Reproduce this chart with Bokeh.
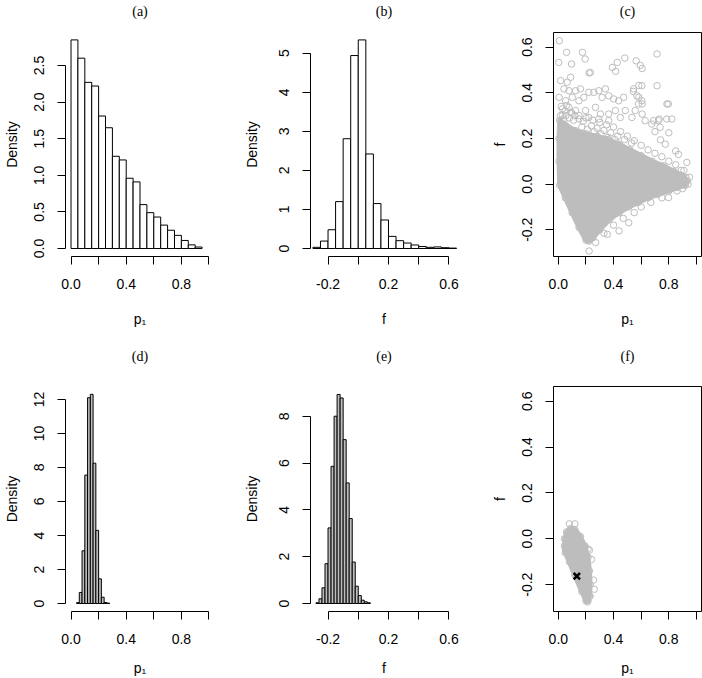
from bokeh.plotting import figure
from bokeh.layouts import column, row
from bokeh.models import FixedTicker, PrintfTickFormatter, Range1d, Title
from bokeh.embed import file_html
from bokeh.resources import INLINE

# ---------------- data ----------------
# (a) histogram of p1
a_breaks = [0.00, 0.05, 0.10, 0.15, 0.20, 0.25, 0.30, 0.35, 0.40, 0.45,
            0.50, 0.55, 0.60, 0.65, 0.70, 0.75, 0.80, 0.85, 0.90, 0.95]
a_density = [2.85, 2.60, 2.27, 2.22, 1.81, 1.65, 1.26, 1.21, 0.96, 0.91,
             0.60, 0.49, 0.43, 0.32, 0.25, 0.18, 0.11, 0.05, 0.02]
# (b) histogram of f
b_breaks = [-0.30, -0.25, -0.20, -0.15, -0.10, -0.05, 0.00, 0.05, 0.10, 0.15,
            0.20, 0.25, 0.30, 0.35, 0.40, 0.45, 0.50, 0.55, 0.60, 0.65]
b_density = [0.03, 0.19, 0.48, 1.20, 2.81, 4.94, 5.34, 2.42, 1.15, 0.73,
             0.31, 0.20, 0.14, 0.09, 0.05, 0.03, 0.04, 0.02, 0.01]
# (d) histogram of p1 (posterior)
d_breaks = [0.04, 0.06, 0.08, 0.10, 0.12, 0.14, 0.16, 0.18, 0.20, 0.22,
            0.24, 0.26, 0.28]
d_density = [0.05, 0.65, 3.10, 7.55, 12.10, 12.30, 8.25, 4.30, 1.45, 0.37,
             0.06, 0.02]
# (e) histogram of f (posterior)
e_breaks = [-0.28, -0.26, -0.24, -0.22, -0.20, -0.18, -0.16, -0.14, -0.12, -0.10,
            -0.08, -0.06, -0.04, -0.02, 0.00, 0.02, 0.04, 0.06, 0.08]
e_density = [0.03, 0.20, 0.67, 1.70, 3.23, 5.86, 8.00, 8.93, 8.78, 7.00,
             5.15, 3.63, 1.77, 0.74, 0.34, 0.14, 0.07, 0.03]

# (c) scatter f vs p1: outline of the solid core + individually visible points
c_core_p1 = [0.01, 0.05, 0.12, 0.20, 0.28, 0.36, 0.44, 0.52, 0.60, 0.68, 0.76, 0.84, 0.90, 0.935,
             0.92, 0.86, 0.80, 0.72, 0.65, 0.58, 0.51, 0.44, 0.37, 0.30, 0.25, 0.22, 0.20,
             0.15, 0.10, 0.05, 0.01, 0.005, 0.005]
c_core_f = [0.28, 0.26, 0.235, 0.22, 0.21, 0.195, 0.175, 0.15, 0.125, 0.10, 0.08, 0.055, 0.035, 0.015,
            -0.005, -0.015, -0.03, -0.045, -0.06, -0.08, -0.10, -0.125, -0.155, -0.20, -0.235, -0.25, -0.245,
            -0.19, -0.125, -0.06, -0.005, 0.10, 0.20]
c_p1 = [0.007, 0.060, 0.003, 0.096, 0.175, 0.194, 0.223, 0.232, 0.391, 0.427, 0.415, 0.482,
        0.564, 0.594, 0.607, 0.715, 0.715, 0.787, 0.822, 0.931, 0.924,
        0.017, 0.065, 0.089, 0.041, 0.077, 0.125, 0.160, 0.005, 0.053, 0.101, 0.149, 0.185,
        0.221, 0.257, 0.293, 0.341, 0.317, 0.365, 0.401, 0.437, 0.473, 0.485, 0.413, 0.365,
        0.305, 0.269, 0.197, 0.125, 0.077, 0.221, 0.293, 0.365, 0.449, 0.533, 0.557, 0.581,
        0.605, 0.569, 0.545, 0.605, 0.629, 0.677, 0.725, 0.737, 0.785, 0.797,
        0.583, 0.583, 0.543, 0.607, 0.607, 0.690, 0.700, 0.740, 0.775, 0.800, 0.730, 0.870, 0.850,
        0.45, 0.50, 0.55, 0.60, 0.65, 0.70, 0.75, 0.80, 0.85, 0.89, 0.40, 0.35, 0.30, 0.25,
        0.20, 0.15, 0.10, 0.05, 0.02, 0.03,
        0.015, 0.035, 0.055, 0.080, 0.110, 0.030, 0.060, 0.090, 0.120, 0.150, 0.180, 0.240,
        0.280, 0.330, 0.380, 0.430, 0.480, 0.530, 0.170, 0.210, 0.260, 0.310, 0.360, 0.410,
        0.223, 0.270, 0.440, 0.510, 0.355, 0.798, 0.670, 0.600, 0.550, 0.470, 0.400, 0.330,
        0.750, 0.860, 0.900, 0.940, 0.950, 0.910, 0.880]
c_f = [0.628, 0.577, 0.533, 0.526, 0.577, 0.548, 0.487, 0.489, 0.511, 0.533, 0.494, 0.552,
       0.540, 0.520, 0.506, 0.570, 0.431, 0.351, 0.285, 0.095, 0.029,
       0.453, 0.446, 0.468, 0.417, 0.409, 0.409, 0.417, 0.380, 0.365, 0.380, 0.365, 0.380,
       0.402, 0.402, 0.409, 0.417, 0.380, 0.387, 0.373, 0.365, 0.380, 0.322, 0.322, 0.307,
       0.307, 0.336, 0.322, 0.322, 0.336, 0.292, 0.285, 0.278, 0.292, 0.292, 0.322, 0.351,
       0.365, 0.387, 0.417, 0.431, 0.278, 0.263, 0.278, 0.249, 0.285, 0.351,
       0.380, 0.432, 0.406, 0.351, 0.307, 0.278, 0.230, 0.194, 0.175, 0.225, 0.285, 0.130, 0.145,
       0.23, 0.21, 0.19, 0.17, 0.15, 0.135, 0.12, 0.10, 0.085, 0.06, 0.25, 0.26, 0.27, 0.28,
       0.29, 0.30, 0.31, 0.32, 0.34, 0.30,
       0.300, 0.285, 0.300, 0.290, 0.280, 0.330, 0.345, 0.315, 0.300, 0.285, 0.275, 0.255,
       0.245, 0.235, 0.225, 0.210, 0.195, 0.180, 0.250, 0.240, 0.230, 0.220, 0.205, 0.195,
       -0.293, -0.256, -0.205, -0.169, -0.220, -0.059, -0.080, -0.100, -0.125, -0.150, -0.180, -0.215,
       -0.060, -0.030, -0.020, 0.000, 0.030, 0.060, 0.040]

# (f) scatter f vs p1 (posterior draws) and the point estimate
f_core_p1 = [0.06, 0.09, 0.12, 0.16, 0.19, 0.215, 0.225, 0.23, 0.225, 0.215, 0.20, 0.17,
             0.12, 0.08, 0.05, 0.045, 0.05]
f_core_f = [0.03, 0.045, 0.04, 0.01, -0.03, -0.08, -0.14, -0.20, -0.25, -0.27, -0.27, -0.23,
            -0.16, -0.10, -0.06, -0.03, 0.00]
f_p1 = [0.080, 0.120, 0.070, 0.195, 0.215, 0.225, 0.240, 0.255, 0.260, 0.050, 0.045, 0.230, 0.210]
f_f = [0.065, 0.065, 0.020, -0.035, -0.045, -0.050, -0.090, -0.180, -0.220, -0.040, 0.000, -0.250, -0.275]
f_est_p1 = [0.134]
f_est_f = [-0.163]

# tick definitions
p1_major = [0.0, 0.4, 0.8]
p1_minor = [0.2, 0.6, 1.0]
fx_major = [-0.2, 0.2, 0.6]
fx_minor = [0.0, 0.4]
a_yticks = [0.0, 0.5, 1.0, 1.5, 2.0, 2.5]
b_yticks = [0, 1, 2, 3, 4, 5]
d_yticks = [0, 2, 4, 6, 8, 10, 12]
e_yticks = [0, 2, 4, 6, 8]
cf_yticks = [-0.2, 0.0, 0.2, 0.4, 0.6]

# ---------------- styling helpers ----------------
SANS = "Liberation Sans"
SERIF = "Liberation Serif"
FS = "14px"
GREY = "#bdbdbd"


def make_fig(width, height, mbl, mbr, mbt, mbb, xr, yr, box, title, spacer):
    p = figure(width=width, height=height, x_range=Range1d(*xr), y_range=Range1d(*yr),
               output_backend="svg", toolbar_location=None, tools="", title=title)
    p.min_border_left = mbl
    p.min_border_right = mbr
    p.min_border_top = mbt
    p.min_border_bottom = mbb
    p.xgrid.visible = False
    p.ygrid.visible = False
    p.outline_line_color = "black" if box else None
    p.outline_line_width = 1
    p.background_fill_color = "white"
    p.border_fill_color = "white"
    p.title.align = "center"
    p.title.vertical_align = "bottom"
    p.title.text_font = SERIF
    p.title.text_font_size = "14px"
    p.title.text_font_style = "normal"
    p.title.text_color = "black"
    p.title.standoff = 0
    # empty spacer between the frame and the panel title
    p.add_layout(Title(text=" ", text_font_size="1px", standoff=spacer), "above")
    return p


def style_axis(ax, major, minor, fmt, bounds, label, label_standoff, tick_standoff, vertical):
    ax.ticker = FixedTicker(ticks=major, minor_ticks=minor)
    ax.formatter = PrintfTickFormatter(format=fmt)
    ax.bounds = bounds
    ax.axis_line_color = "black"
    ax.axis_line_width = 1
    ax.major_tick_out = 8
    ax.major_tick_in = 0
    ax.minor_tick_out = 8
    ax.minor_tick_in = 0
    ax.major_tick_line_color = "black"
    ax.minor_tick_line_color = "black"
    ax.major_label_text_font = SANS
    ax.major_label_text_font_size = FS
    ax.major_label_text_color = "black"
    ax.major_label_standoff = tick_standoff
    ax.axis_label = label
    ax.axis_label_text_font = SANS
    ax.axis_label_text_font_size = FS
    ax.axis_label_text_font_style = "normal"
    ax.axis_label_text_color = "black"
    ax.axis_label_standoff = label_standoff
    if vertical:
        ax.major_label_orientation = "vertical"


def hist(p, breaks, dens, fill):
    p.quad(left=breaks[:-1], right=breaks[1:], bottom=0, top=dens,
           fill_color=fill, line_color="black", line_width=1)


# layout geometry (page pixels; the page has no margin)
R1H, R2H = 333, 345
R1 = dict(mbt=32, mbb=77)
R2 = dict(mbt=53, mbb=67)
C1 = dict(width=240, mbl=65, mbr=26)
C2 = dict(width=248, mbl=68, mbr=31)
C3 = dict(width=214, mbl=65, mbr=1)

P1_RANGE = (-0.04, 1.04)
F_RANGE = (-0.316, 0.6565)
CF_X = (-0.035, 1.037)
CF_Y = (-0.317, 0.664)

XT_ST = 14      # x tick label standoff
YT_ST = 13      # y tick label standoff
XL1 = 19        # x axis label standoff, row 1
XL2 = 13        # x axis label standoff, row 2
SP1, SP2 = 11, 20  # spacer standoffs above the frames

# ---- (a)
pa = make_fig(C1["width"], R1H, C1["mbl"], C1["mbr"], R1["mbt"], R1["mbb"], P1_RANGE, (-0.109, 2.951), False, "(a)", SP1)
hist(pa, a_breaks, a_density, "white")
style_axis(pa.xaxis[0], p1_major, p1_minor, "%.1f", (0.0, 1.0), "p\u2081", XL1, XT_ST, False)
style_axis(pa.yaxis[0], a_yticks, [], "%.1f", (0.0, 2.5), "Density", 12, YT_ST, True)

# ---- (b)
pb = make_fig(C2["width"], R1H, C2["mbl"], C2["mbr"], R1["mbt"], R1["mbb"], F_RANGE, (-0.205, 5.53), False, "(b)", SP1)
hist(pb, b_breaks, b_density, "white")
style_axis(pb.xaxis[0], fx_major, fx_minor, "%.1f", (-0.2, 0.6), "f", XL1, XT_ST, False)
style_axis(pb.yaxis[0], b_yticks, [], "%d", (0, 5), "Density", 17, YT_ST, True)

# ---- (c)
pc = make_fig(C3["width"], R1H, C3["mbl"], C3["mbr"], R1["mbt"], R1["mbb"], CF_X, CF_Y, True, "(c)", SP1)
pc.patch(c_core_p1, c_core_f, fill_color=GREY, line_color=GREY, line_width=5, line_join="round")
pc.scatter(c_core_p1, c_core_f, marker="circle", size=6.5, fill_color=None, line_color=GREY, line_width=1)
pc.scatter(c_p1, c_f, marker="circle", size=6.5, fill_color=None, line_color=GREY, line_width=1)
style_axis(pc.xaxis[0], p1_major, p1_minor, "%.1f", (0.0, 1.0), "p\u2081", XL1, XT_ST, False)
style_axis(pc.yaxis[0], cf_yticks, [], "%.1f", (-0.2, 0.6), "f", 12, YT_ST, True)

# ---- (d)
pd_ = make_fig(C1["width"], R2H, C1["mbl"], C1["mbr"], R2["mbt"], R2["mbb"], P1_RANGE, (-0.47, 12.76), False, "(d)", SP2)
hist(pd_, d_breaks, d_density, GREY)
style_axis(pd_.xaxis[0], p1_major, p1_minor, "%.1f", (0.0, 1.0), "p\u2081", XL2, XT_ST, False)
style_axis(pd_.yaxis[0], d_yticks, [], "%d", (0, 12), "Density", 12, YT_ST, True)

# ---- (e)
pe = make_fig(C2["width"], R2H, C2["mbl"], C2["mbr"], R2["mbt"], R2["mbb"], F_RANGE, (-0.342, 9.27), False, "(e)", SP2)
hist(pe, e_breaks, e_density, GREY)
style_axis(pe.xaxis[0], fx_major, fx_minor, "%.1f", (-0.2, 0.6), "f", XL2, XT_ST, False)
style_axis(pe.yaxis[0], e_yticks, [], "%d", (0, 8), "Density", 17, YT_ST, True)

# ---- (f)
pf = make_fig(C3["width"], R2H, C3["mbl"], C3["mbr"], R2["mbt"], R2["mbb"], CF_X, CF_Y, True, "(f)", SP2)
pf.patch(f_core_p1, f_core_f, fill_color=GREY, line_color=GREY, line_width=5, line_join="round")
pf.scatter(f_core_p1, f_core_f, marker="circle", size=6.5, fill_color=None, line_color=GREY, line_width=1)
pf.scatter(f_p1, f_f, marker="circle", size=6.5, fill_color=None, line_color=GREY, line_width=1)
pf.scatter(f_est_p1, f_est_f, marker="x", size=9, line_color="black", line_width=2.5)
style_axis(pf.xaxis[0], p1_major, p1_minor, "%.1f", (0.0, 1.0), "p\u2081", XL2, XT_ST, False)
style_axis(pf.yaxis[0], cf_yticks, [], "%.1f", (-0.2, 0.6), "f", 12, YT_ST, True)

layout = column(row(pa, pb, pc), row(pd_, pe, pf))

open("out.html", "w").write(file_html(layout, INLINE))
